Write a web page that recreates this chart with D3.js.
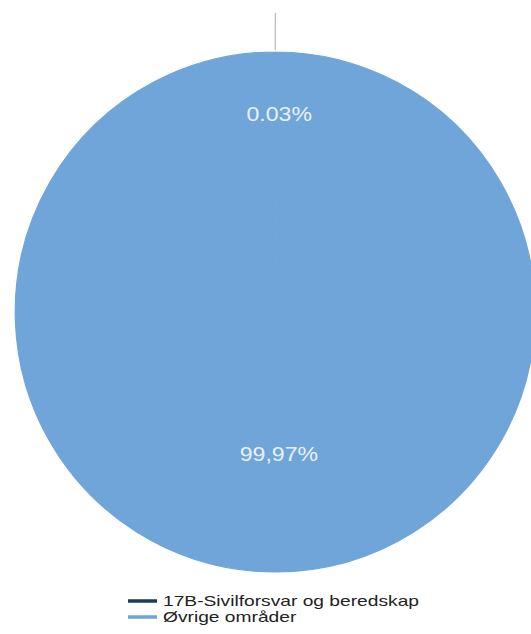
<!DOCTYPE html>
<html><head><meta charset="utf-8">
<script src="https://cdn.jsdelivr.net/npm/d3@7/dist/d3.min.js"></script>
<style>body{margin:0;background:#fff;}svg{display:block;font-family:"Liberation Sans",Arial,sans-serif;}</style>
</head><body><svg id="c" width="531" height="634"></svg>
<script>
const categories = ["17B-Sivilforsvar og beredskap", "Øvrige områder"];
const values = [0.03, 99.97];
const labels = ["0.03%", "99,97%"];
const colors = ["#1b3a5e", "#6fa5d9"];

const svg = d3.select("#c");
const cx = 275, cy = 312, r = 260;
const g = svg.append("g").attr("transform", `translate(${cx},${cy})`);
const pie = d3.pie().sort(null).value(d => d)(values);
const arc = d3.arc().innerRadius(0).outerRadius(r);
g.selectAll("path.s").data(pie).enter().append("path")
  .attr("d", arc).attr("fill", (d, i) => colors[i])
  .attr("stroke", (d, i) => i === 1 ? colors[i] : "none")
  .attr("stroke-width", 1.2);

// leader line for tiny slice
const a0 = (pie[0].startAngle + pie[0].endAngle) / 2;
const p1 = [Math.sin(a0) * (r + 2), -Math.cos(a0) * (r + 2)];
const p2 = [Math.sin(a0) * (r + 39), -Math.cos(a0) * (r + 39)];
g.append("line").attr("x1", p1[0]).attr("y1", p1[1]).attr("x2", p2[0]).attr("y2", p2[1])
  .attr("stroke", "#aaa").attr("stroke-width", 1);

const labelR = [198, 142];
g.selectAll("text.l").data(pie).enter().append("text")
  .attr("transform", (d, i) => {
    const m = (d.startAngle + d.endAngle) / 2;
    return `translate(${Math.sin(m) * labelR[i] + 4},${-Math.cos(m) * labelR[i]}) scale(1.1,1)`;
  })
  .attr("dy", "0.35em").attr("text-anchor", "middle")
  .attr("fill", "#e8f1fb").attr("font-size", 21)
  .text((d, i) => labels[i]);

const lg = svg.append("g").attr("transform", "translate(128,601)");
categories.forEach((c, i) => {
  const row = lg.append("g").attr("transform", `translate(0,${i * 16})`);
  row.append("line").attr("x1", 0).attr("x2", 29).attr("y1", 0).attr("y2", 0)
    .attr("stroke", colors[i]).attr("stroke-width", 3.5);
  row.append("text").attr("transform", "translate(35,0) scale(1.28,1)")
    .attr("dy", "0.35em")
    .attr("font-size", 15).attr("fill", "#222").text(c);
});
</script></body></html>
